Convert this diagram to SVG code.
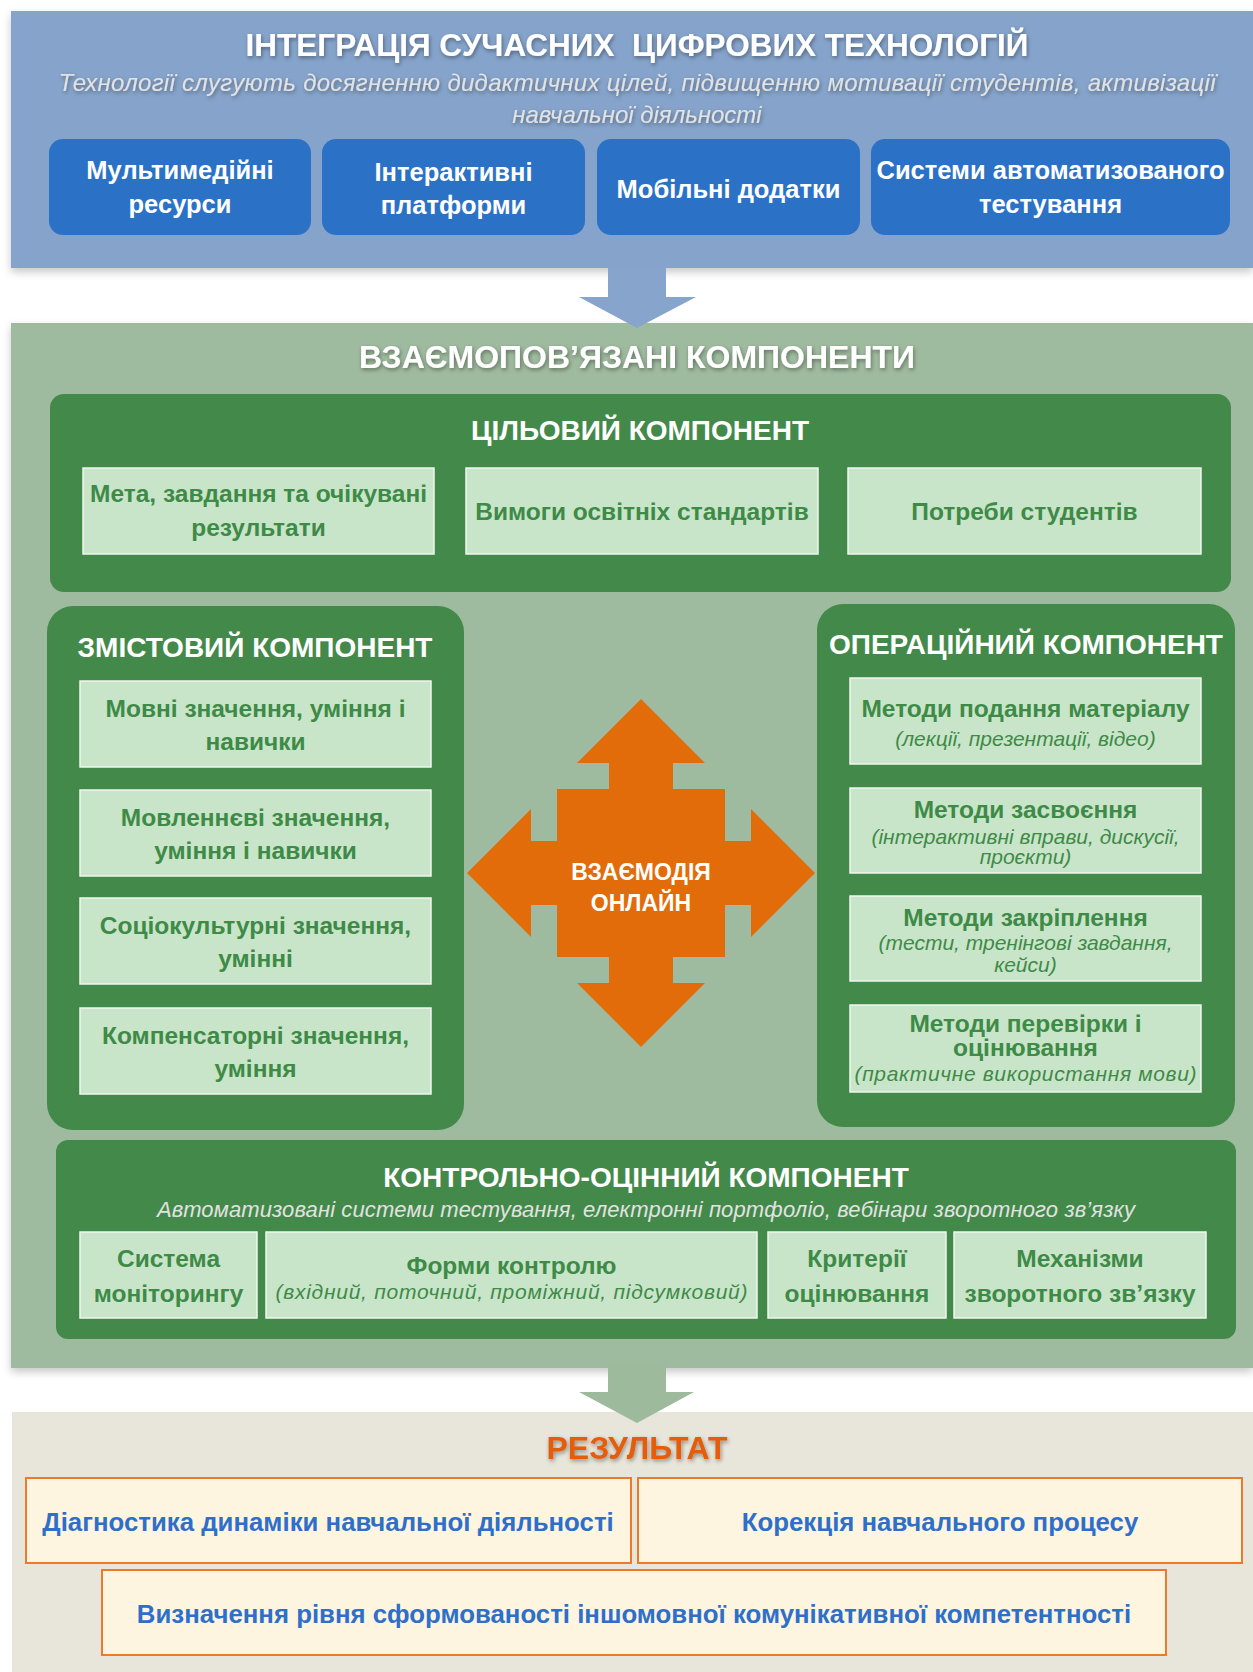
<svg xmlns="http://www.w3.org/2000/svg" width="1253" height="1672" viewBox="0 0 1253 1672">
<defs>
<filter id="sh" x="-5%" y="-5%" width="110%" height="115%">
<feDropShadow dx="0" dy="4" stdDeviation="4" flood-color="#000" flood-opacity="0.22"/>
</filter>
<filter id="tsh" x="-5%" y="-40%" width="110%" height="180%">
<feDropShadow dx="1" dy="2" stdDeviation="2" flood-color="#000" flood-opacity="0.4"/>
</filter>
</defs>
<style>
text{font-family:"Liberation Sans",Arial,sans-serif;text-anchor:middle}
.h{font-weight:700;fill:#fff}
.sub{font-style:italic;fill:#e2e2e2}
.bb{fill:#2b72c7}
.bt{font-weight:700;fill:#fff;font-size:25.5px}
.card{fill:#43894a}
.lg{fill:#c9e5c9;stroke:#eef6ee;stroke-width:1.5}
.gt{font-weight:700;fill:#3e8a47;font-size:24.5px}
.gi{font-style:italic;fill:#3e8a47;font-size:21px}
.rb{fill:#fdf5e0;stroke:#ec7a2c;stroke-width:2}
.rt{font-weight:700;fill:#2e6fc9;font-size:25.8px}
</style>

<g id="panel-tech">
<rect x="11" y="11" width="1242" height="257" fill="#86a4cb" filter="url(#sh)"/>
<text class="h" x="637" y="56" font-size="31.5" style="white-space:pre" filter="url(#tsh)">ІНТЕГРАЦІЯ СУЧАСНИХ  ЦИФРОВИХ ТЕХНОЛОГІЙ</text>
<text class="sub" x="637" y="91" font-size="24" textLength="1157" filter="url(#tsh)">Технології слугують досягненню дидактичних цілей, підвищенню мотивації студентів, активізації</text>
<text class="sub" x="637" y="123" font-size="24" filter="url(#tsh)">навчальної діяльності</text>
</g>
<g id="tech-multimedia">
<rect class="bb" x="49" y="139" width="262" height="96" rx="14"/>
<text class="bt" x="180" y="179">Мультимедійні</text>
<text class="bt" x="180" y="213">ресурси</text>
</g>
<g id="tech-interactive">
<rect class="bb" x="322" y="139" width="263" height="96" rx="14"/>
<text class="bt" x="453.5" y="181">Інтерактивні</text>
<text class="bt" x="453.5" y="214">платформи</text>
</g>
<g id="tech-mobile">
<rect class="bb" x="597" y="139" width="263" height="96" rx="14"/>
<text class="bt" x="728.5" y="198">Мобільні додатки</text>
</g>
<g id="tech-testing">
<rect class="bb" x="871" y="139" width="359" height="96" rx="14"/>
<text class="bt" x="1050.5" y="179">Системи автоматизованого</text>
<text class="bt" x="1050.5" y="213">тестування</text>
</g>

<g id="panel-components">
<rect x="11" y="323" width="1242" height="1045" fill="#9fbb9f" filter="url(#sh)"/>
<text class="h" x="637" y="368" font-size="32" filter="url(#tsh)">ВЗАЄМОПОВ’ЯЗАНІ КОМПОНЕНТИ</text>
</g>

<g id="target-component">
<rect class="card" x="50" y="394" width="1181" height="198" rx="14"/>
<text class="h" x="640" y="440" font-size="28">ЦІЛЬОВИЙ КОМПОНЕНТ</text>
<rect class="lg" x="83" y="468" width="351" height="86"/>
<text class="gt" x="258.5" y="502">Мета, завдання та очікувані</text>
<text class="gt" x="258.5" y="536">результати</text>
<rect class="lg" x="466" y="468" width="352" height="86"/>
<text class="gt" x="642" y="520">Вимоги освітніх стандартів</text>
<rect class="lg" x="848" y="468" width="353" height="86"/>
<text class="gt" x="1024.5" y="520">Потреби студентів</text>
</g>

<g id="content-component">
<rect class="card" x="47" y="606" width="417" height="524" rx="26"/>
<text class="h" x="255" y="657" font-size="28">ЗМІСТОВИЙ КОМПОНЕНТ</text>
<rect class="lg" x="80" y="681" width="351" height="86"/>
<text class="gt" x="255.5" y="717">Мовні значення, уміння і</text>
<text class="gt" x="255.5" y="750">навички</text>
<rect class="lg" x="80" y="790" width="351" height="86"/>
<text class="gt" x="255.5" y="826">Мовленнєві значення,</text>
<text class="gt" x="255.5" y="859">уміння і навички</text>
<rect class="lg" x="80" y="898" width="351" height="86"/>
<text class="gt" x="255.5" y="934">Соціокультурні значення,</text>
<text class="gt" x="255.5" y="967">умінні</text>
<rect class="lg" x="80" y="1008" width="351" height="86"/>
<text class="gt" x="255.5" y="1044">Компенсаторні значення,</text>
<text class="gt" x="255.5" y="1077">уміння</text>
</g>

<g id="operational-component">
<rect class="card" x="817" y="604" width="418" height="523" rx="26"/>
<text class="h" x="1026" y="654" font-size="28">ОПЕРАЦІЙНИЙ КОМПОНЕНТ</text>
<rect class="lg" x="850" y="678" width="351" height="86"/>
<text class="gt" x="1025.5" y="717">Методи подання матеріалу</text>
<text class="gi" x="1025.5" y="746">(лекції, презентації, відео)</text>
<rect class="lg" x="850" y="788" width="351" height="85"/>
<text class="gt" x="1025.5" y="818">Методи засвоєння</text>
<text class="gi" x="1025.5" y="844">(інтерактивні вправи, дискусії,</text>
<text class="gi" x="1025.5" y="864">проєкти)</text>
<rect class="lg" x="850" y="896" width="351" height="85"/>
<text class="gt" x="1025.5" y="926">Методи закріплення</text>
<text class="gi" x="1025.5" y="950">(тести, тренінгові завдання,</text>
<text class="gi" x="1025.5" y="972">кейси)</text>
<rect class="lg" x="850" y="1005" width="351" height="87"/>
<text class="gt" x="1025.5" y="1032">Методи перевірки і</text>
<text class="gt" x="1025.5" y="1056">оцінювання</text>
<text class="gi" x="1025.5" y="1081" textLength="342">(практичне використання мови)</text>
</g>

<g id="online-interaction">
<polygon fill="#e36c0a" points="641,699 705,763 673,763 673,789 725,789 725,841 751,841 751,809 815,873 751,937 751,905 725,905 725,957 673,957 673,983 705,983 641,1047 577,983 609,983 609,957 557,957 557,905 531,905 531,937 467,873 531,809 531,841 557,841 557,789 609,789 609,763 577,763"/>
<text class="h" x="641" y="880" font-size="23">ВЗАЄМОДІЯ</text>
<text class="h" x="641" y="911" font-size="23">ОНЛАЙН</text>
</g>

<g id="control-component">
<rect class="card" x="56" y="1140" width="1180" height="199" rx="12"/>
<text class="h" x="646" y="1187" font-size="28">КОНТРОЛЬНО-ОЦІННИЙ КОМПОНЕНТ</text>
<text class="sub" x="646" y="1217" font-size="22" textLength="978">Автоматизовані системи тестування, електронні портфоліо, вебінари зворотного зв’язку</text>
<rect class="lg" x="80" y="1232" width="177" height="86"/>
<text class="gt" x="168.5" y="1267">Система</text>
<text class="gt" x="168.5" y="1302">моніторингу</text>
<rect class="lg" x="266" y="1232" width="491" height="86"/>
<text class="gt" x="511.5" y="1274">Форми контролю</text>
<text class="gi" x="511.5" y="1299" textLength="472">(вхідний, поточний, проміжний, підсумковий)</text>
<rect class="lg" x="768" y="1232" width="178" height="86"/>
<text class="gt" x="857" y="1267">Критерії</text>
<text class="gt" x="857" y="1302">оцінювання</text>
<rect class="lg" x="954" y="1232" width="252" height="86"/>
<text class="gt" x="1080" y="1267">Механізми</text>
<text class="gt" x="1080" y="1302">зворотного зв’язку</text>
</g>

<g id="panel-result">
<rect x="12" y="1412" width="1241" height="260" fill="#e8e5da"/>
<text x="637" y="1459" font-size="32" font-weight="700" fill="#e35d0b" filter="url(#tsh)">РЕЗУЛЬТАТ</text>
</g>
<g id="result-diagnostics">
<rect class="rb" x="26" y="1478" width="605" height="85"/>
<text class="rt" x="328" y="1531">Діагностика динаміки навчальної діяльності</text>
</g>
<g id="result-correction">
<rect class="rb" x="638" y="1478" width="604" height="85"/>
<text class="rt" x="940" y="1531">Корекція навчального процесу</text>
</g>
<g id="result-level">
<rect class="rb" x="102" y="1570" width="1064" height="85"/>
<text class="rt" x="634" y="1623">Визначення рівня сформованості іншомовної комунікативної компетентності</text>
</g>

<g id="connectors">
<polygon fill="#87a5cc" points="608,268 666,268 666,297 696,297 637,328 579,297 608,297"/>
<polygon fill="#9dba9d" points="608,1362 666,1362 666,1392 694,1392 637,1423 579,1392 608,1392"/>
</g>
</svg>
